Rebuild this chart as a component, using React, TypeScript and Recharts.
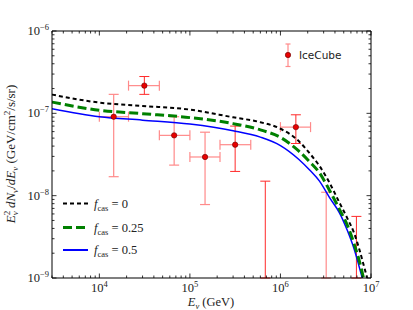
import {
  ComposedChart,
  Line,
  Scatter,
  ErrorBar,
  XAxis,
  YAxis,
  Legend,
} from "recharts";

const energyGrid = [3e3, 1e4, 3e4, 1e5, 3e5, 6e5, 1e6, 1.6e6, 2.1e6, 2.7e6, 3.5e6, 4.5e6, 5.5e6, 6.5e6, 7.5e6, 8.5e6, 9.5e6];
const fluxCas0 = [1.69e-7, 1.35e-7, 1.23e-7, 1.11e-7, 8.95e-8, 7.8e-8, 6.5e-8, 4.58e-8, 3.27e-8, 2.29e-8, 1.42e-8, 8.15e-9, 5.27e-9, 3.53e-9, 2.15e-9, 1.3e-9, 8.2e-10];
const fluxCas025 = [1.37e-7, 1.09e-7, 9.9e-8, 8.87e-8, 7.5e-8, 6.3e-8, 5.1e-8, 3.47e-8, 2.58e-8, 1.89e-8, 1.15e-8, 6.78e-9, 4.33e-9, 2.6e-9, 1.55e-9, 8.7e-10, 5e-10];
const fluxCas05 = [1.14e-7, 9.1e-8, 8.26e-8, 7.4e-8, 6.15e-8, 5.14e-8, 4.06e-8, 2.75e-8, 2.05e-8, 1.5e-8, 9.4e-9, 6.15e-9, 3.74e-9, 2.26e-9, 1.3e-9, 7.6e-10, 4e-10];

// IceCube points
const iceE = [1.44e4, 3.14e4, 6.7e4, 1.47e5, 3.16e5, 1.48e6];
const iceELow = [1.0e4, 2.1e4, 4.6e4, 1.0e5, 2.15e5, 1.0e6];
const iceEHigh = [2.1e4, 4.6e4, 1.0e5, 2.15e5, 4.7e5, 2.15e6];
const iceFlux = [9.1e-8, 2.17e-7, 5.4e-8, 2.95e-8, 4.16e-8, 6.8e-8];
const iceFluxLow = [1.7e-8, 1.7e-7, 2.35e-8, 7.8e-9, 1.97e-8, 4.3e-8];
const iceFluxHigh = [1.7e-7, 2.8e-7, 9.1e-8, 5.9e-8, 7.0e-8, 9.6e-8];
const iceDark = [false, true, false, false, true, true];

// bins whose central value lies below the plot: bar runs up from the floor
const limitE = [6.8e5, 3.2e6, 6.9e6];
const limitTop = [1.5e-8, 1.1e-8, 5.6e-9];
const limitDark = [true, false, true];

const xDecades = [1e3, 1e4, 1e5, 1e6];
const yDecades = [1e-9, 1e-8, 1e-7];
const steps = [1, 2, 3, 4, 5, 6, 7, 8, 9];

const X_MIN = 3000;
const X_MAX = 1e7;
const Y_MIN = 1e-9;
const Y_MAX = 1e-6;

const xTicks = [...xDecades.flatMap((d) => steps.map((s) => d * s)), 1e7].filter(
  (v) => v >= X_MIN && v <= X_MAX
);
const yTicks = [...yDecades.flatMap((d) => steps.map((s) => d * s)), 1e-6];

const curveRows = energyGrid.map((e, i) => ({
  e,
  c0: fluxCas0[i],
  c25: fluxCas025[i],
  c50: fluxCas05[i],
}));

const iceRows = iceE.map((e, i) => ({
  e,
  f: iceFlux[i],
  ex: [e - iceELow[i], iceEHigh[i] - e],
  fy: [iceFlux[i] - iceFluxLow[i], iceFluxHigh[i] - iceFlux[i]],
  dark: iceDark[i],
}));

const limitRows = limitE.map((e, i) => ({
  e,
  f: Y_MIN,
  fy: [0, limitTop[i] - Y_MIN],
  dark: limitDark[i],
}));

const PINK = "#ff8a8a";
const RED = "#ff2a2a";
const SERIF = "'Liberation Serif', 'DejaVu Serif', serif";

const isMajor = (v: number) => {
  const l = Math.log10(v);
  return Math.abs(l - Math.round(l)) < 1e-6;
};
const expOf = (v: number) => Math.round(Math.log10(v));
const sup = (n: number) => (n < 0 ? `\u2212${-n}` : `${n}`);

function BottomTick(props: any) {
  const { x, y, payload } = props;
  const v = payload.value;
  const major = isMajor(v);
  return (
    <g>
      <line x1={x} x2={x} y1={y} y2={y - (major ? 4.5 : 2.5)} stroke="#000" strokeWidth={0.8} />
      {major && (
        <text x={x} y={y + 14} textAnchor="middle" fontFamily={SERIF} fontSize={12.5} fill="#222">
          10
          <tspan dy={-5} fontSize={8.5}>
            {sup(expOf(v))}
          </tspan>
        </text>
      )}
    </g>
  );
}

function TopTick(props: any) {
  const { x, y, payload } = props;
  const major = isMajor(payload.value);
  return <line x1={x} x2={x} y1={y} y2={y + (major ? 4.5 : 2.5)} stroke="#000" strokeWidth={0.8} />;
}

function LeftTick(props: any) {
  const { x, y, payload } = props;
  const v = payload.value;
  const major = isMajor(v);
  return (
    <g>
      <line x1={x} x2={x + (major ? 4.5 : 2.5)} y1={y} y2={y} stroke="#000" strokeWidth={0.8} />
      {major && (
        <text x={x - 3} y={y + 4} textAnchor="end" fontFamily={SERIF} fontSize={12.5} fill="#222">
          10
          <tspan dy={-5} fontSize={8.5}>
            {sup(expOf(v))}
          </tspan>
        </text>
      )}
    </g>
  );
}

function RightTick(props: any) {
  const { x, y, payload } = props;
  const major = isMajor(payload.value);
  return <line x1={x} x2={x - (major ? 4.5 : 2.5)} y1={y} y2={y} stroke="#000" strokeWidth={0.8} />;
}

const dot = (p: any) => (
  <circle cx={p.cx} cy={p.cy} r={2.7} fill="#e80000" stroke="#600" strokeWidth={0.6} />
);
const noDot = () => <g />;

const legendLines = [
  { label: "0", stroke: "#000", dash: "4 3", width: 2, y: 203.5 },
  { label: "0.25", stroke: "#008000", dash: "9 4", width: 3, y: 227.5 },
  { label: "0.5", stroke: "#0000ff", dash: undefined, width: 2, y: 250 },
];

const renderLegend = () => (
  <svg width={413} height={310} style={{ position: "absolute", left: 0, top: 0 }}>
    {legendLines.map((l) => (
      <g key={l.label}>
        <line
          x1={63}
          x2={88}
          y1={l.y}
          y2={l.y}
          stroke={l.stroke}
          strokeWidth={l.width}
          strokeDasharray={l.dash}
        />
        <text x={94} y={l.y + 4} fontFamily={SERIF} fontSize={12.5} fill="#222">
          <tspan fontStyle="italic">f</tspan>
          <tspan dy={3} fontSize={8.5}>
            cas
          </tspan>
          <tspan dy={-3}>{` = ${l.label}`}</tspan>
        </text>
      </g>
    ))}
    <line x1={288} x2={288} y1={44} y2={66.5} stroke={PINK} strokeWidth={1.2} />
    <line x1={285.5} x2={290.5} y1={44} y2={44} stroke={PINK} strokeWidth={1.2} />
    <line x1={285.5} x2={290.5} y1={66.5} y2={66.5} stroke={PINK} strokeWidth={1.2} />
    <circle cx={288} cy={55} r={2.7} fill="#e80000" stroke="#600" strokeWidth={0.6} />
    <text x={299} y={59} fontFamily="'DejaVu Sans', sans-serif" fontSize={10.5} fill="#222">
      IceCube
    </text>
    {/* axis titles */}
    <text x={211} y={306} textAnchor="middle" fontFamily={SERIF} fontSize={12.5} fill="#222">
      <tspan fontStyle="italic">E</tspan>
      <tspan dy={3} fontSize={8.5} fontStyle="italic">
        ν
      </tspan>
      <tspan dy={-3}>{" (GeV)"}</tspan>
    </text>
    <text
      transform="translate(15 154) rotate(-90)"
      textAnchor="middle"
      fontFamily={SERIF}
      fontSize={13}
      fill="#222"
    >
      <tspan fontStyle="italic">E</tspan>
      <tspan dy={-5} fontSize={9}>
        2
      </tspan>
      <tspan dx={-4.5} dy={8} fontSize={9} fontStyle="italic">
        ν
      </tspan>
      <tspan dy={-3} fontStyle="italic">
        {" dN"}
      </tspan>
      <tspan dy={3} fontSize={9} fontStyle="italic">
        ν
      </tspan>
      <tspan dy={-3}>/</tspan>
      <tspan fontStyle="italic">dE</tspan>
      <tspan dy={3} fontSize={9} fontStyle="italic">
        ν
      </tspan>
      <tspan dy={-3}>{" (GeV/cm"}</tspan>
      <tspan dy={-5} fontSize={9}>
        2
      </tspan>
      <tspan dy={5}>/s/sr)</tspan>
    </text>
  </svg>
);

export default function App() {
  return (
    <div style={{ position: "absolute", left: 0, top: 0, background: "#fff" }}>
      <ComposedChart width={413} height={310} margin={{ top: 30, right: 41, bottom: 31, left: 51 }}>
        <Scatter
          xAxisId="main"
          yAxisId="main"
          data={limitRows.filter((r) => !r.dark)}
          dataKey="f"
          shape={noDot}
          isAnimationActive={false}
        >
          <ErrorBar dataKey="fy" direction="y" width={5} stroke={PINK} strokeWidth={1.2} />
        </Scatter>
        <Scatter
          xAxisId="main"
          yAxisId="main"
          data={limitRows.filter((r) => r.dark)}
          dataKey="f"
          shape={noDot}
          isAnimationActive={false}
        >
          <ErrorBar dataKey="fy" direction="y" width={5} stroke={RED} strokeWidth={1} />
        </Scatter>
        <Scatter
          xAxisId="main"
          yAxisId="main"
          data={iceRows.filter((r) => !r.dark)}
          dataKey="f"
          shape={dot}
          isAnimationActive={false}
        >
          <ErrorBar dataKey="ex" direction="x" width={5} stroke={PINK} strokeWidth={1.2} />
          <ErrorBar dataKey="fy" direction="y" width={5} stroke={PINK} strokeWidth={1.2} />
        </Scatter>
        <Scatter
          xAxisId="main"
          yAxisId="main"
          data={iceRows.filter((r) => r.dark)}
          dataKey="f"
          shape={dot}
          isAnimationActive={false}
        >
          <ErrorBar dataKey="ex" direction="x" width={5} stroke={PINK} strokeWidth={1.2} />
          <ErrorBar dataKey="fy" direction="y" width={5} stroke={RED} strokeWidth={1} />
        </Scatter>

        <Line
          xAxisId="main"
          yAxisId="main"
          data={curveRows}
          dataKey="c50"
          type="monotone"
          stroke="#0000ff"
          strokeWidth={1.5}
          dot={false}
          isAnimationActive={false}
        />
        <Line
          xAxisId="main"
          yAxisId="main"
          data={curveRows}
          dataKey="c25"
          type="monotone"
          stroke="#008000"
          strokeWidth={3}
          strokeDasharray="9 4"
          dot={false}
          isAnimationActive={false}
        />
        <Line
          xAxisId="main"
          yAxisId="main"
          data={curveRows}
          dataKey="c0"
          type="monotone"
          stroke="#000"
          strokeWidth={2}
          strokeDasharray="4 3"
          dot={false}
          isAnimationActive={false}
        />

        <XAxis
          xAxisId="main"
          type="number"
          dataKey="e"
          scale="log"
          domain={[X_MIN, X_MAX]}
          allowDataOverflow
          ticks={xTicks}
          interval={0}
          height={1}
          tickSize={0}
          tickMargin={0}
          tickLine={false}
          tick={<BottomTick />}
          axisLine={{ stroke: "#000", strokeWidth: 1.2 }}
        />
        <XAxis
          xAxisId="top"
          orientation="top"
          type="number"
          dataKey="e"
          scale="log"
          domain={[X_MIN, X_MAX]}
          allowDataOverflow
          ticks={xTicks}
          interval={0}
          height={1}
          tickSize={0}
          tickMargin={0}
          tickLine={false}
          tick={<TopTick />}
          axisLine={{ stroke: "#000", strokeWidth: 1 }}
        />
        <YAxis
          yAxisId="main"
          type="number"
          scale="log"
          domain={[Y_MIN, Y_MAX]}
          allowDataOverflow
          ticks={yTicks}
          interval={0}
          width={1}
          tickSize={0}
          tickMargin={0}
          tickLine={false}
          tick={<LeftTick />}
          axisLine={{ stroke: "#000", strokeWidth: 1 }}
        />
        <YAxis
          yAxisId="right"
          orientation="right"
          type="number"
          scale="log"
          domain={[Y_MIN, Y_MAX]}
          allowDataOverflow
          ticks={yTicks}
          interval={0}
          width={1}
          tickSize={0}
          tickMargin={0}
          tickLine={false}
          tick={<RightTick />}
          axisLine={{ stroke: "#000", strokeWidth: 1 }}
        />

        <Legend
          layout="horizontal"
          verticalAlign="middle"
          align="center"
          content={renderLegend}
          wrapperStyle={{ left: 0, top: 0, width: 413, height: 310, pointerEvents: "none" }}
        />
      </ComposedChart>
    </div>
  );
}
